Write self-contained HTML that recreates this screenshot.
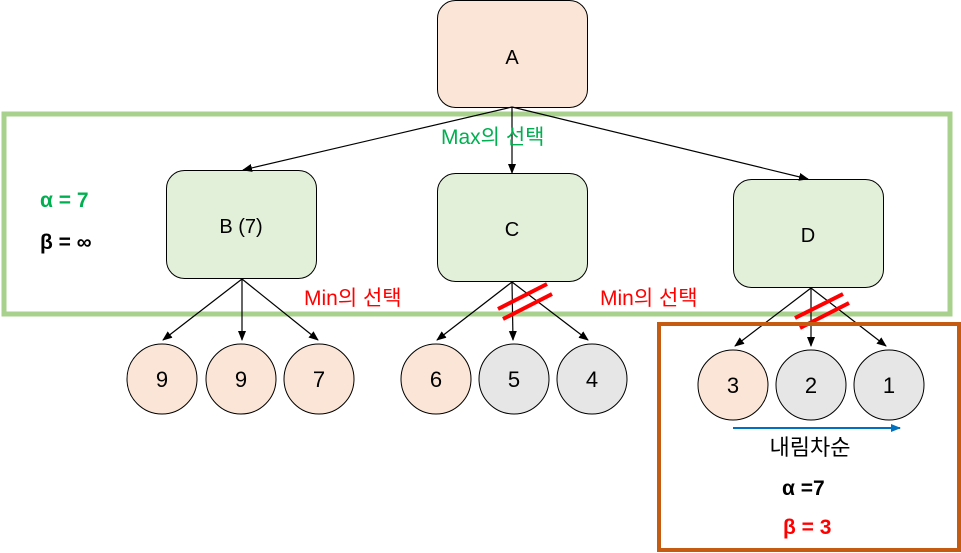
<!DOCTYPE html>
<html><head><meta charset="utf-8"><style>
html,body{margin:0;padding:0;background:#fff;}
svg{display:block;font-family:"Liberation Sans","Noto Sans CJK KR",sans-serif;}
</style></head><body>
<svg width="961" height="553" viewBox="0 0 961 553" xmlns="http://www.w3.org/2000/svg">
<defs>
<marker id="ar" markerWidth="10" markerHeight="10" refX="9" refY="5" orient="auto" markerUnits="userSpaceOnUse">
<path d="M0,1 L10,5 L0,9 z" fill="#000"/></marker>
<marker id="ab" markerWidth="10" markerHeight="10" refX="9" refY="5" orient="auto" markerUnits="userSpaceOnUse">
<path d="M0,1 L10,5 L0,9 z" fill="#0070c0"/></marker>
</defs>
<!-- A -->
<rect x="437.5" y="0.5" width="150" height="107" rx="18" fill="#fbe5d6" stroke="#000"/>
<text x="512" y="64" font-size="20" text-anchor="middle">A</text>
<!-- green frame -->
<rect x="4" y="114" width="946" height="200" fill="none" stroke="#a9d18e" stroke-width="5"/>
<!-- B C D -->
<rect x="166.5" y="170.5" width="150" height="108" rx="18" fill="#e2efd9" stroke="#000"/>
<text x="241" y="233" font-size="20" text-anchor="middle">B (7)</text>
<rect x="437.5" y="173.5" width="150" height="108" rx="18" fill="#e2efd9" stroke="#000"/>
<text x="512" y="236" font-size="20" text-anchor="middle">C</text>
<rect x="733.5" y="179.5" width="150" height="108" rx="18" fill="#e2efd9" stroke="#000"/>
<text x="808" y="242" font-size="20" text-anchor="middle">D</text>
<!-- arrows from A -->
<g stroke="#000" stroke-width="1.2" fill="none">
<line x1="512" y1="107" x2="243" y2="170" marker-end="url(#ar)"/>
<line x1="512" y1="107" x2="512" y2="173" marker-end="url(#ar)"/>
<line x1="512" y1="107" x2="808" y2="179" marker-end="url(#ar)"/>
<line x1="242" y1="279" x2="163" y2="340" marker-end="url(#ar)"/>
<line x1="242" y1="279" x2="242" y2="340" marker-end="url(#ar)"/>
<line x1="242" y1="279" x2="318" y2="340" marker-end="url(#ar)"/>
<line x1="512" y1="282" x2="437" y2="340" marker-end="url(#ar)"/>
<line x1="512" y1="282" x2="513" y2="340" marker-end="url(#ar)"/>
<line x1="512" y1="282" x2="588" y2="340" marker-end="url(#ar)"/>
<line x1="811" y1="288" x2="735" y2="346" marker-end="url(#ar)"/>
<line x1="811" y1="288" x2="811" y2="346" marker-end="url(#ar)"/>
<line x1="811" y1="288" x2="886" y2="346" marker-end="url(#ar)"/>
</g>
<!-- circles -->
<g stroke="#000" stroke-width="1">
<circle cx="162" cy="379" r="35" fill="#fbe5d6"/>
<circle cx="241" cy="379" r="35" fill="#fbe5d6"/>
<circle cx="319" cy="379" r="35" fill="#fbe5d6"/>
<circle cx="436" cy="379" r="35" fill="#fbe5d6"/>
<circle cx="514" cy="379" r="35" fill="#e6e6e6"/>
<circle cx="592" cy="379" r="35" fill="#e6e6e6"/>
<circle cx="733" cy="385" r="35" fill="#fbe5d6"/>
<circle cx="811" cy="385" r="35" fill="#e6e6e6"/>
<circle cx="889" cy="385" r="35" fill="#e6e6e6"/>
</g>
<g font-size="22" text-anchor="middle">
<text x="162" y="387">9</text><text x="241" y="387">9</text><text x="319" y="387">7</text>
<text x="436" y="387">6</text><text x="514" y="387">5</text><text x="592" y="387">4</text>
<text x="733" y="393">3</text><text x="811" y="393">2</text><text x="889" y="393">1</text>
</g>
<!-- red slashes -->
<g stroke="#ff0000" stroke-width="4">
<line x1="498" y1="309" x2="547" y2="284"/><line x1="503" y1="319" x2="552" y2="294"/>
<line x1="795" y1="318" x2="843" y2="294"/><line x1="800" y1="328" x2="849" y2="303"/>
</g>
<!-- orange frame -->
<rect x="659" y="324" width="300" height="226" fill="none" stroke="#c55a11" stroke-width="4"/>
<!-- blue arrow -->
<line x1="733" y1="428" x2="900" y2="428" stroke="#0070c0" stroke-width="2" marker-end="url(#ab)"/>
<!-- labels -->
<text x="441" y="144" font-size="21" fill="#00b050">Max의 선택</text>
<text x="304" y="305" font-size="21" fill="#ff0000">Min의 선택</text>
<text x="600" y="305" font-size="21" fill="#ff0000">Min의 선택</text>
<text x="40" y="207" font-size="21" font-weight="bold" fill="#00b050">α = 7</text>
<text x="40" y="249" font-size="21" font-weight="bold" fill="#000">β = ∞</text>
<text x="810" y="455" font-size="22" text-anchor="middle">내림차순</text>
<text x="782" y="495" font-size="21" font-weight="bold">α =7</text>
<text x="783" y="534" font-size="21" font-weight="bold" fill="#ff0000">β = 3</text>
</svg>
</body></html>
